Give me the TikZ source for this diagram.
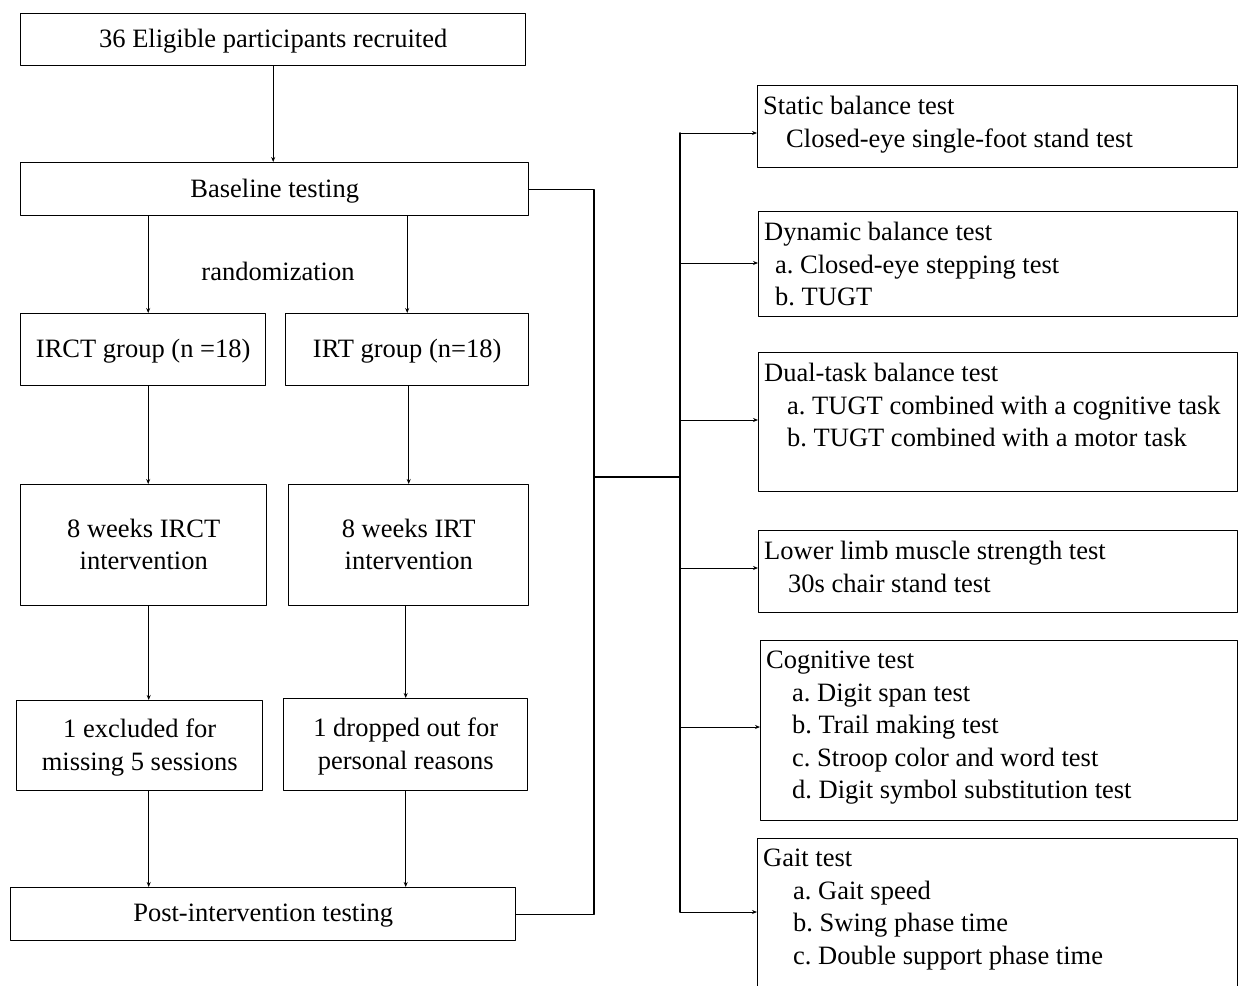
\documentclass[tikz,border=0pt]{standalone}
\usepackage{fontspec}
\setmainfont{Liberation Serif}
\usetikzlibrary{arrows.meta, calc}
\frenchspacing

\begin{document}
\begin{tikzpicture}[
  x=1pt, y=-1pt,
  line cap=round, line join=round,
  every node/.style={font=\fontsize{26.5}{32.5}\selectfont},
  box/.style={draw, line width=1.4pt, anchor=north west, inner sep=0pt, align=center, text depth=2pt},
  testbox/.style={draw, line width=1.4pt, anchor=north west, inner sep=0pt, minimum width=480pt},
  testtxt/.style={anchor=north west, align=left, inner xsep=6pt, inner ysep=11pt},
  arr/.style={line width=1pt, -{Stealth[length=5pt, width=4pt]}},
  link/.style={line width=1.2pt},
  bus/.style={line width=1.8pt}
]
  \useasboundingbox (0,0) rectangle (1238,985);
  \clip (0,0) rectangle (1238,985);
  % left column
  \node[box, minimum width=505pt, minimum height=52pt] (recruit) at (20,13) {36 Eligible participants recruited};
  \node[box, minimum width=508pt, minimum height=53pt] (baseline) at (20,162) {Baseline testing};
  \node (rand) at (278,271) {randomization};
  \node[box, minimum width=245pt, minimum height=72pt] (irct) at (20,313) {IRCT group (n =18)};
  \node[box, minimum width=243pt, minimum height=72pt] (irt) at (285,313) {IRT group (n=18)};
  \node[box, minimum width=246pt, minimum height=121pt] (irctint) at (20,484) {8 weeks IRCT\\intervention};
  \node[box, minimum width=240pt, minimum height=121pt] (irtint) at (288,484) {8 weeks IRT\\intervention};
  \node[box, minimum width=246pt, minimum height=90pt] (excl) at (16,700) {1 excluded for\\missing 5 sessions};
  \node[box, minimum width=244pt, minimum height=92pt] (drop) at (283,698) {1 dropped out for\\personal reasons};
  \node[box, minimum width=505pt, minimum height=53pt] (post) at (10,887) {Post-intervention testing};
  % arrows down the left column
  \draw[arr] (recruit.south) -- (recruit.south |- baseline.north);
  \draw[arr] ([xshift=5pt]baseline.south -| irct.north) -- ([xshift=5pt]irct.north);
  \draw[arr] (baseline.south -| irt.north) -- (irt.north);
  \draw[arr] ([xshift=5pt]irct.south) -- ([xshift=5pt]irct.south |- irctint.north);
  \draw[arr] (irt.south -| irtint.north) -- (irtint.north);
  \draw[arr] ([xshift=5pt]irctint.south) -- ([xshift=9pt]excl.north);
  \draw[arr] (irtint.south -| drop.north) -- (drop.north);
  \draw[arr] ([xshift=9pt]excl.south) -- ([xshift=9pt]excl.south |- post.north);
  \draw[arr] (drop.south) -- (drop.south |- post.north);
  % right column
  \node[testbox, minimum height=82pt] (static) at (757,85) {};
  \node[testbox, minimum height=105pt, minimum width=479pt] (dynamic) at (758,211) {};
  \node[testbox, minimum height=139pt, minimum width=479pt] (dual) at (758,352) {};
  \node[testbox, minimum height=82pt, minimum width=479pt] (lower) at (758,530) {};
  \node[testbox, minimum height=180pt, minimum width=477pt] (cog) at (760,640) {};
  \node[testbox, minimum height=170pt] (gait) at (757,838) {};
  \node[testtxt] (statictxt) at (static.north west) {Static balance test\\\hspace{23pt}Closed-eye single-foot stand test};
  \node[testtxt] (dynamictxt) at (dynamic.north west) {Dynamic balance test\\\hspace{11pt}a. Closed-eye stepping test\\\hspace{11pt}b. TUGT};
  \node[testtxt] (dualtxt) at (dual.north west) {Dual-task balance test\\\hspace{23pt}a. TUGT combined with a cognitive task\\\hspace{23pt}b. TUGT combined with a motor task};
  \node[testtxt] (lowertxt) at (lower.north west) {Lower limb muscle strength test\\\hspace{24pt}30s chair stand test};
  \node[testtxt] (cogtxt) at (cog.north west) {Cognitive test\\\hspace{26pt}a. Digit span test\\\hspace{26pt}b. Trail making test\\\hspace{26pt}c. Stroop color and word test\\\hspace{26pt}d. Digit symbol substitution test};
  \node[testtxt] (gaittxt) at (gait.north west) {Gait test\\\hspace{30pt}a. Gait speed\\\hspace{30pt}b. Swing phase time\\\hspace{30pt}c. Double support phase time};
  % bracket joining the two testing boxes
  \coordinate (split) at (594,477);
  \coordinate (bustop) at (680,133);
  \coordinate (busbot) at (680,912);
  \draw[link] (baseline.east) -| (split) |- (post.east);
  \draw[bus] (split) -- (split -| bustop);
  \draw[bus] (bustop) -- (busbot);
  % arrows into each test box
  \foreach \b/\y in {static/133, dynamic/263, dual/420, lower/568, cog/727, gait/912}
    \draw[arr] (680,\y) -- (\b.west |- 0,\y);
\end{tikzpicture}
\end{document}
